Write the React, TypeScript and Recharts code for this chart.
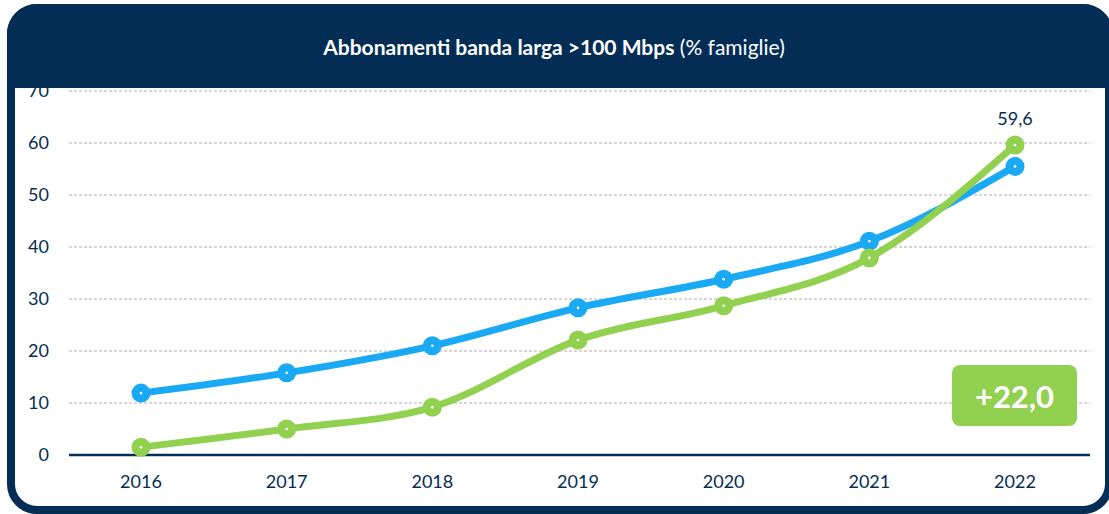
import React from "react";
import { LineChart, Line, XAxis, YAxis, CartesianGrid, LabelList } from "recharts";

const years = ["2016", "2017", "2018", "2019", "2020", "2021", "2022"];
const blueValues = [11.9, 15.8, 21.0, 28.3, 33.8, 41.1, 55.5];
const greenValues = [1.5, 5.0, 9.2, 22.1, 28.7, 37.9, 59.6];
const yTicks = [0, 10, 20, 30, 40, 50, 60, 70];
const greenLabels = ["", "", "", "", "", "", "59,6"];
const titleBold = "Abbonamenti banda larga >100 Mbps";
const titleRegular = " (% famiglie)";
const badgeText = "+22,0";

const NAVY = "#032D55";
const BLUE = "#1AA9F4";
const GREEN = "#92D050";
const FONT = "Lato, 'Open Sans', sans-serif";

const data = years.map((y, i) => ({
  year: y,
  blue: blueValues[i],
  green: greenValues[i],
  greenLabel: greenLabels[i],
}));

const makeDot = (color: string) => (props: any) => {
  const { cx, cy, index } = props;
  if (cx == null || cy == null) return <g key={index} />;
  return (
    <g key={index}>
      <circle cx={cx} cy={cy} r={9.5} fill={color} stroke="none" />
      <circle cx={cx} cy={cy} r={1.3} fill="#ffffff" stroke="none" />
    </g>
  );
};

export default function App() {
  return (
    <div
      style={{
        position: "absolute",
        left: 0,
        top: 0,
        width: 1109,
        height: 514,
        overflow: "hidden",
        background: "#ffffff",
        fontFamily: FONT,
      }}
    >
      <div style={{ position: "absolute", left: 0, top: 0 }}>
        <LineChart
          width={1109}
          height={514}
          data={data}
          margin={{ top: 91, right: 19, bottom: 29, left: 9 }}
        >
          <CartesianGrid
            vertical={false}
            stroke="#D6D6D6"
            strokeWidth={2}
            strokeDasharray="3 2"
          />
          <XAxis
            dataKey="year"
            height={30}
            padding={{ left: 72, right: 75 }}
            axisLine={{ stroke: NAVY, strokeWidth: 2.5 }}
            tickLine={false}
            tickSize={0}
            tickMargin={20}
            tick={{ fill: NAVY, fontSize: 18, fontFamily: FONT }}
            interval={0}
          />
          <YAxis
            domain={[0, 70]}
            ticks={yTicks}
            axisLine={false}
            tickLine={false}
            tickSize={0}
            tickMargin={20}
            width={60}
            tick={{ fill: NAVY, fontSize: 18, fontFamily: FONT }}
            interval={0}
          />
          <Line
            type="monotone"
            dataKey="blue"
            stroke={BLUE}
            strokeWidth={7}
            dot={makeDot(BLUE)}
            activeDot={false}
            isAnimationActive={false}
          />
          <Line
            type="monotone"
            dataKey="green"
            stroke={GREEN}
            strokeWidth={7}
            dot={makeDot(GREEN)}
            activeDot={false}
            isAnimationActive={false}
          >
            <LabelList
              dataKey="greenLabel"
              position="top"
              offset={20}
              fill={NAVY}
              fontSize={18}
              fontFamily={FONT}
            />
          </Line>
        </LineChart>
      </div>
      {/* frame */}
      <div
        style={{
          position: "absolute",
          left: 7,
          top: 4,
          width: 1106,
          height: 510,
          boxSizing: "border-box",
          border: `8px solid ${NAVY}`,
          borderRadius: 30,
          pointerEvents: "none",
        }}
      />
      {/* header */}
      <div
        style={{
          position: "absolute",
          left: 7,
          top: 4,
          width: 1106,
          height: 84,
          background: NAVY,
          borderRadius: "30px 30px 0 0",
          color: "#ffffff",
          display: "flex",
          alignItems: "center",
          justifyContent: "center",
          fontSize: 21,
          fontFamily: FONT,
          boxSizing: "border-box",
        }}
      >
        <span style={{ marginLeft: -12 }}>
          <b>{titleBold}</b>
          <span>{titleRegular}</span>
        </span>
      </div>
      {/* badge */}
      <div
        style={{
          position: "absolute",
          left: 952,
          top: 365,
          width: 125,
          height: 61,
          background: GREEN,
          borderRadius: 8,
          color: "#ffffff",
          fontWeight: 700,
          fontSize: 31,
          fontFamily: FONT,
          display: "flex",
          alignItems: "center",
          justifyContent: "center",
        }}
      >
        {badgeText}
      </div>
    </div>
  );
}
